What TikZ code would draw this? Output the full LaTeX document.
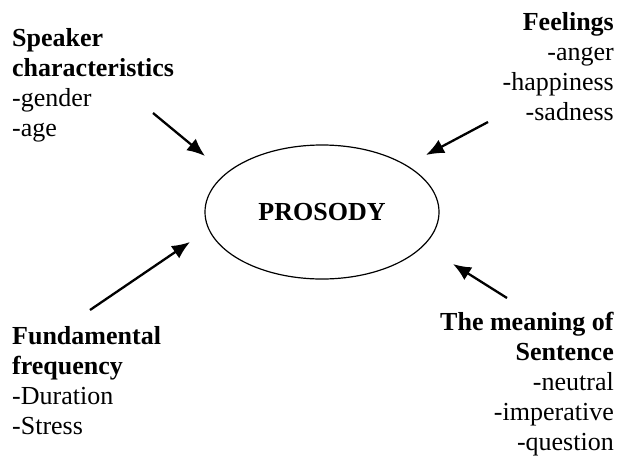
\documentclass[tikz,border=0pt]{standalone}
\usepackage{fontspec}
\setmainfont{Liberation Serif}
\usetikzlibrary{arrows.meta,shapes.geometric}
\tikzset{
  block/.style={inner sep=0pt, font=\fontsize{26}{30}\selectfont},
  leftblock/.style={block, align=left, anchor=base west},
  rightblock/.style={block, align=right, anchor=base east},
  arr/.style={line width=2.3pt, -{Latex[length=18pt,width=15pt]}},
  oval/.style={draw, line width=1.2pt, ellipse, minimum width=234pt, minimum height=134pt, inner sep=0pt, font=\fontsize{26}{30}\selectfont\bfseries}
}
\begin{document}
\begin{tikzpicture}[x=1pt,y=-1pt]
\useasboundingbox (0,0) rectangle (620,461);
\node[oval] (p) at (322,212) {PROSODY};
% anchors at the baseline of the last line of each block
\node[leftblock] (spk) at (12,136) {\textbf{Speaker}\\\textbf{characteristics}\\-gender\\-age};
\node[rightblock] (fee) at (614,120) {\textbf{Feelings}\\-anger\\-happiness\\-sadness};
\node[leftblock] (fun) at (12,434) {\textbf{Fundamental}\\\textbf{frequency}\\-Duration\\-Stress};
\node[rightblock] (mea) at (614,450) {\textbf{The meaning of}\\\textbf{Sentence}\\-neutral\\-imperative\\-question};
\coordinate (s1) at (153,113); \coordinate (t1) at (205,156);
\coordinate (s2) at (488,122); \coordinate (t2) at (426,155);
\coordinate (s3) at (90,310);  \coordinate (t3) at (190,242);
\coordinate (s4) at (507,298); \coordinate (t4) at (453,264);
\draw[arr] (s1) -- (t1);
\draw[arr] (s2) -- (t2);
\draw[arr] (s3) -- (t3);
\draw[arr] (s4) -- (t4);
\end{tikzpicture}
\end{document}
